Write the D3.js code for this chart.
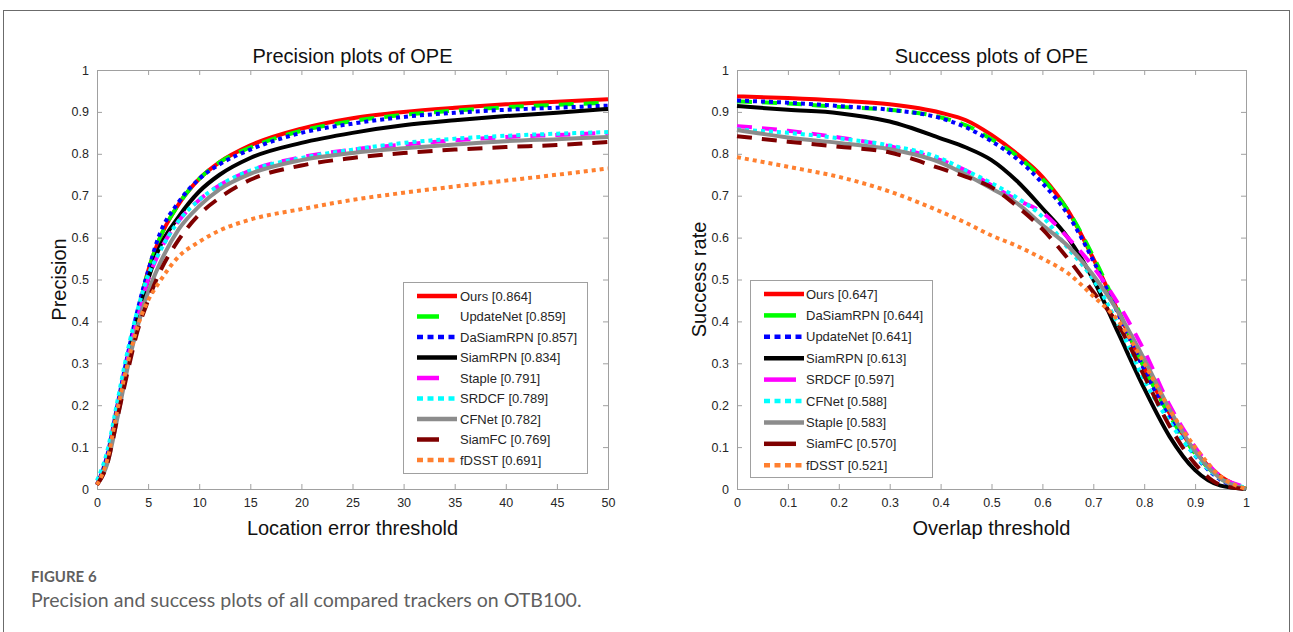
<!DOCTYPE html>
<html>
<head>
<meta charset="utf-8">
<script src="https://cdn.jsdelivr.net/npm/d3@7"></script>
<style>
  body { margin: 0; background: #fff; }
  svg { display: block; font-family: "Liberation Sans", Arial, sans-serif; }
</style>
</head>
<body>
<div id="chart"></div>
<script>
// precision plot (location error threshold)
const precX = [0, 1, 2, 3, 4, 5, 6, 8, 10, 12, 15, 20, 25, 30, 35, 40, 45, 50];
const precOurs      = [0.01, 0.07, 0.19, 0.31, 0.42, 0.52, 0.59, 0.68, 0.74, 0.78, 0.82, 0.86, 0.885, 0.90, 0.91, 0.918, 0.924, 0.93];
const precUpdateNet = [0.01, 0.07, 0.19, 0.31, 0.42, 0.52, 0.59, 0.68, 0.74, 0.78, 0.815, 0.855, 0.878, 0.893, 0.903, 0.911, 0.917, 0.922];
const precDaSiamRPN = [0.01, 0.08, 0.20, 0.32, 0.43, 0.52, 0.60, 0.685, 0.74, 0.775, 0.81, 0.85, 0.872, 0.888, 0.898, 0.905, 0.91, 0.915];
const precSiamRPN   = [0.01, 0.07, 0.19, 0.30, 0.41, 0.50, 0.57, 0.65, 0.71, 0.75, 0.79, 0.826, 0.85, 0.868, 0.88, 0.89, 0.898, 0.907];
const precStaple    = [0.01, 0.07, 0.19, 0.31, 0.41, 0.50, 0.56, 0.64, 0.69, 0.725, 0.76, 0.792, 0.81, 0.822, 0.832, 0.84, 0.845, 0.85];
const precSRDCF     = [0.02, 0.09, 0.21, 0.33, 0.43, 0.51, 0.56, 0.64, 0.69, 0.725, 0.76, 0.79, 0.81, 0.826, 0.836, 0.843, 0.848, 0.852];
const precCFNet     = [0.01, 0.06, 0.17, 0.29, 0.39, 0.47, 0.53, 0.62, 0.675, 0.715, 0.752, 0.785, 0.802, 0.813, 0.822, 0.83, 0.835, 0.84];
const precSiamFC    = [0.01, 0.06, 0.17, 0.28, 0.38, 0.45, 0.51, 0.595, 0.655, 0.695, 0.738, 0.772, 0.79, 0.802, 0.81, 0.816, 0.821, 0.828];
const precFDSST     = [0.01, 0.07, 0.19, 0.30, 0.39, 0.45, 0.49, 0.555, 0.59, 0.617, 0.643, 0.668, 0.69, 0.707, 0.722, 0.736, 0.75, 0.765];
const precLegend = ['Ours [0.864]', 'UpdateNet [0.859]', 'DaSiamRPN [0.857]', 'SiamRPN [0.834]', 'Staple [0.791]',
  'SRDCF [0.789]', 'CFNet [0.782]', 'SiamFC [0.769]', 'fDSST [0.691]'];

// success plot (overlap threshold)
const succX = [0, 0.1, 0.2, 0.3, 0.4, 0.45, 0.5, 0.55, 0.6, 0.65, 0.7, 0.75, 0.8, 0.85, 0.9, 0.95, 1];
const succOurs      = [0.937, 0.933, 0.927, 0.918, 0.898, 0.88, 0.845, 0.80, 0.745, 0.665, 0.55, 0.42, 0.29, 0.18, 0.09, 0.03, 0];
const succDaSiamRPN = [0.925, 0.92, 0.912, 0.905, 0.887, 0.868, 0.835, 0.795, 0.74, 0.665, 0.555, 0.425, 0.29, 0.175, 0.085, 0.025, 0];
const succUpdateNet = [0.927, 0.922, 0.914, 0.905, 0.885, 0.863, 0.83, 0.788, 0.73, 0.655, 0.545, 0.415, 0.285, 0.17, 0.08, 0.022, 0];
const succSiamRPN   = [0.914, 0.905, 0.897, 0.877, 0.837, 0.815, 0.785, 0.735, 0.67, 0.60, 0.50, 0.37, 0.24, 0.125, 0.045, 0.008, 0];
const succSRDCF     = [0.866, 0.855, 0.839, 0.818, 0.785, 0.76, 0.725, 0.69, 0.66, 0.60, 0.53, 0.44, 0.33, 0.20, 0.10, 0.03, 0.005];
const succCFNet     = [0.858, 0.85, 0.837, 0.82, 0.789, 0.76, 0.73, 0.695, 0.65, 0.575, 0.50, 0.39, 0.26, 0.16, 0.08, 0.025, 0.003];
const succStaple    = [0.857, 0.839, 0.826, 0.811, 0.779, 0.75, 0.717, 0.682, 0.63, 0.58, 0.51, 0.42, 0.31, 0.19, 0.09, 0.025, 0];
const succSiamFC    = [0.842, 0.829, 0.817, 0.803, 0.765, 0.745, 0.72, 0.675, 0.62, 0.55, 0.47, 0.39, 0.27, 0.15, 0.06, 0.01, 0];
const succFDSST     = [0.792, 0.769, 0.745, 0.71, 0.662, 0.635, 0.605, 0.58, 0.55, 0.515, 0.46, 0.40, 0.30, 0.19, 0.10, 0.03, 0];
const succLegend = ['Ours [0.647]', 'DaSiamRPN [0.644]', 'UpdateNet [0.641]', 'SiamRPN [0.613]', 'SRDCF [0.597]',
  'CFNet [0.588]', 'Staple [0.583]', 'SiamFC [0.570]', 'fDSST [0.521]'];

// line style by rank, as the OTB toolkit does
const styles = [
  { color: '#ff0000', type: 'solid' },
  { color: '#00ff00', type: 'dash' },
  { color: '#0000ff', type: 'dot' },
  { color: '#000000', type: 'solid' },
  { color: '#ff00ff', type: 'dash' },
  { color: '#00ffff', type: 'dot' },
  { color: '#8c8c8c', type: 'solid' },
  { color: '#7f0000', type: 'dash' },
  { color: '#ff8030', type: 'dot' }
];
const dashes = { solid: null, dash: '15,10', dot: '4,4' };

const W = 1293, H = 632;
const svg = d3.select('#chart').append('svg').attr('width', W).attr('height', H);

// outer frame
svg.append('rect')
  .attr('x', 3.5).attr('y', 10.5).attr('width', 1286).attr('height', 700)
  .attr('fill', 'none').attr('stroke', '#6b6b6b');

function drawPanel(p) {
  const g = svg.append('g').attr('transform', `translate(${p.left},${p.top})`);
  const x = d3.scaleLinear().domain(p.xDomain).range([0, p.width]);
  const y = d3.scaleLinear().domain([0, 1]).range([p.height, 0]);

  const xAxis = d3.axisBottom(x).tickValues(p.xTicks).tickSize(-5).tickPadding(9).tickFormat(p.xFmt);
  const yAxis = d3.axisLeft(y).tickValues(d3.range(0, 1.01, 0.1)).tickSize(-5).tickPadding(8).tickFormat(d3.format('~g'));
  const xTop = d3.axisTop(x).tickValues(p.xTicks).tickSize(-5).tickFormat('');
  const yRight = d3.axisRight(y).tickValues(d3.range(0, 1.01, 0.1)).tickSize(-5).tickFormat('');

  [
    g.append('g').attr('transform', `translate(0,${p.height})`).call(xAxis),
    g.append('g').call(yAxis),
    g.append('g').call(xTop),
    g.append('g').attr('transform', `translate(${p.width},0)`).call(yRight)
  ].forEach(a => {
    a.select('.domain').attr('stroke', '#a0a0a0');
    a.selectAll('.tick line').attr('stroke', '#a0a0a0');
    a.selectAll('.tick text').attr('fill', '#262626').style('font-size', '12.5px');
  });

  const line = d3.line()
    .x((d, i) => x(p.xs[i]))
    .y(d => y(d))
    .curve(d3.curveMonotoneX);

  p.series.forEach((s, i) => {
    const st = styles[i];
    g.append('path')
      .attr('d', line(s))
      .attr('fill', 'none')
      .attr('stroke', st.color)
      .attr('stroke-width', 4)
      .attr('stroke-dasharray', dashes[st.type]);
  });

  // title and axis labels
  g.append('text').attr('x', p.width / 2).attr('y', -7).attr('text-anchor', 'middle')
    .style('font-size', '20px').attr('fill', '#111').text(p.title);
  g.append('text').attr('x', p.width / 2).attr('y', p.height + 46).attr('text-anchor', 'middle')
    .style('font-size', '20px').attr('fill', '#111').text(p.xLabel);
  g.append('text').attr('transform', `translate(${-31},${p.height / 2}) rotate(-90)`).attr('text-anchor', 'middle')
    .style('font-size', '20px').attr('fill', '#111').text(p.yLabel);

  // legend
  const lg = svg.append('g').attr('transform', `translate(${p.legend.x},${p.legend.y})`);
  lg.append('rect').attr('x', 0.5).attr('y', 0.5).attr('width', p.legend.w).attr('height', p.legend.h)
    .attr('fill', '#fff').attr('stroke', '#a0a0a0');
  p.names.forEach((name, i) => {
    const st = styles[i];
    const yy = 14 + i * p.legend.step;
    const x0 = 14;
    let x1 = x0 + 40;
    if (st.type === 'dash') x1 = x0 + p.legend.dash;
    if (st.type === 'dot') x1 = x0 + 38;
    lg.append('line')
      .attr('x1', x0).attr('x2', x1).attr('y1', yy).attr('y2', yy)
      .attr('stroke', st.color).attr('stroke-width', 4.5)
      .attr('stroke-dasharray', st.type === 'dot' ? '6,4.5' : null);
    lg.append('text').attr('x', p.legend.tx).attr('y', yy + 4.5)
      .style('font-size', '13px').attr('fill', '#262626').text(name);
  });
}

drawPanel({
  left: 97, top: 70, width: 511, height: 419,
  xDomain: [0, 50], xTicks: d3.range(0, 51, 5), xFmt: d3.format('d'),
  xs: precX,
  series: [precOurs, precUpdateNet, precDaSiamRPN, precSiamRPN, precStaple, precSRDCF, precCFNet, precSiamFC, precFDSST],
  names: precLegend,
  title: 'Precision plots of OPE', xLabel: 'Location error threshold', yLabel: 'Precision',
  legend: { x: 403, y: 282, w: 184, h: 191, step: 20.5, tx: 57, dash: 22 }
});

drawPanel({
  left: 737, top: 70, width: 509, height: 419,
  xDomain: [0, 1], xTicks: d3.range(0, 1.01, 0.1), xFmt: d3.format('~g'),
  xs: succX,
  series: [succOurs, succDaSiamRPN, succUpdateNet, succSiamRPN, succSRDCF, succCFNet, succStaple, succSiamFC, succFDSST],
  names: succLegend,
  title: 'Success plots of OPE', xLabel: 'Overlap threshold', yLabel: 'Success rate',
  legend: { x: 750, y: 280, w: 182, h: 197, step: 21.4, tx: 56, dash: 32 }
});

// caption
svg.append('text').attr('x', 31).attr('y', 582)
  .style('font-family', 'Lato, sans-serif').style('font-size', '15px').style('font-weight', 700)
  .attr('fill', '#5f5f5f').text('FIGURE 6');
const cap = svg.append('text').attr('x', 31).attr('y', 607)
  .style('font-family', 'Lato, sans-serif').style('font-size', '16px')
  .attr('fill', '#5f5f5f').text('Precision and success plots of all compared trackers on OTB100.');
// size the caption so it spans about the same width as in the figure
const capLen = cap.node().getComputedTextLength();
cap.style('font-size', (16 * 551 / capLen).toFixed(2) + 'px');
</script>
</body>
</html>
